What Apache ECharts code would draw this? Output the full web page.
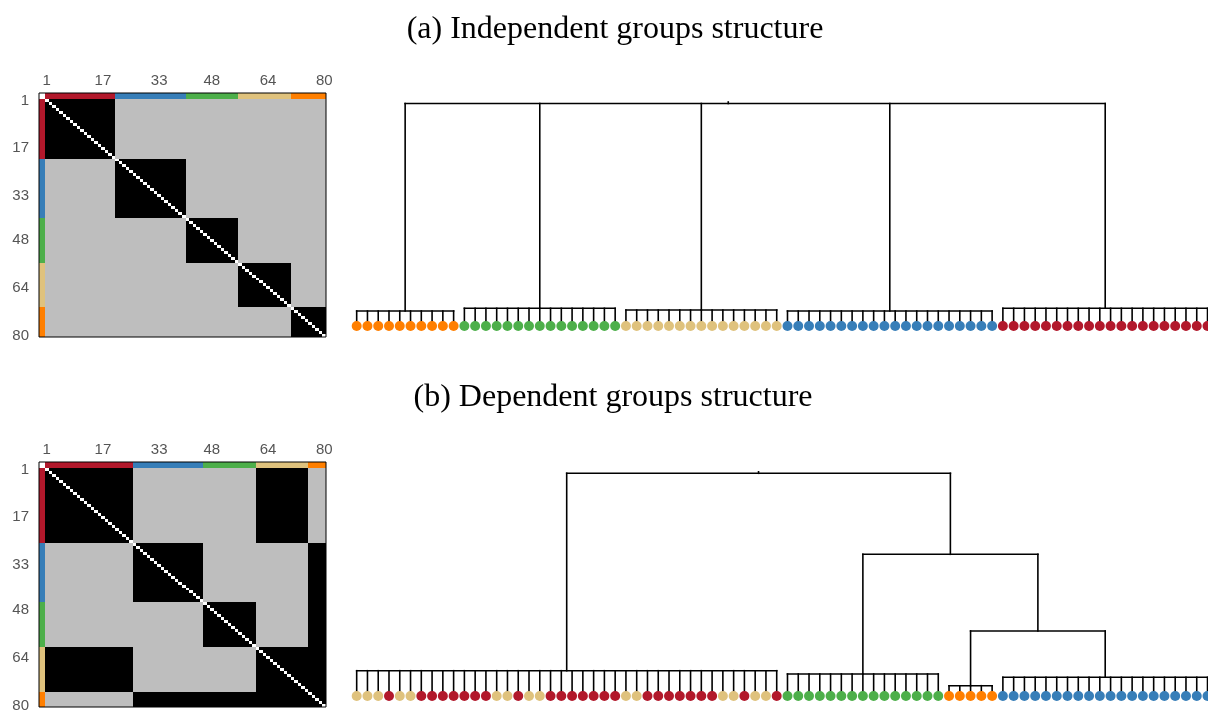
<!DOCTYPE html>
<html>
<head>
<meta charset="utf-8">
<script src="https://cdn.jsdelivr.net/npm/echarts@6/dist/echarts.min.js"></script>
<style>
  html, body { margin: 0; padding: 0; background: #fff; }
  #chart { width: 1208px; height: 711px; }
</style>
</head>
<body>
<div id="chart"></div>
<script>
// Group palette, in matrix order: red, blue, green, tan, orange
const groupColors = ['#b2182b', '#377eb8', '#4daf4a', '#dfc27d', '#ff7f00'];
const groupCodes = ['R', 'B', 'G', 'T', 'O'];
// Matrix cell colours: independent, dependent, diagonal
const cellColors = ['#bebebe', '#000000', '#ffffff'];

const titleA = '(a) Independent groups structure';
const titleB = '(b) Dependent groups structure';
const tickLabels = ['1', '17', '33', '48', '64', '80'];

// Group sizes along the matrix rows / columns
const sizesA = [20, 20, 15, 15, 10];
const sizesB = [25, 20, 15, 15, 5];

// 1 = the two groups are dependent (black block), 0 = independent (grey)
const linkA = [
  [1, 0, 0, 0, 0],
  [0, 1, 0, 0, 0],
  [0, 0, 1, 0, 0],
  [0, 0, 0, 1, 0],
  [0, 0, 0, 0, 1]
];
const linkB = [
  [1, 0, 0, 1, 0],
  [0, 1, 0, 0, 1],
  [0, 0, 1, 0, 1],
  [1, 0, 0, 1, 1],
  [0, 1, 1, 1, 1]
];

// Leaf groups along each dendrogram, left to right
const leavesA = 'OOOOO OOOOO GGGGG GGGGG GGGGG TTTTT TTTTT TTTTT BBBBB BBBBB BBBBB BBBBB RRRRR RRRRR RRRRR RRRRR';
const leavesB = 'TTTRT TRRRR RRRTT RTTRR RRRRR TTRRR RRRRT TRTTR GGGGG GGGGG GGGGG OOOOO BBBBB BBBBB BBBBB BBBBB';

// Dendrogram (a): flat leaf clusters [first leaf, last leaf] and their heights
const clusterSpanA = [[0, 9], [10, 24], [25, 39], [40, 59], [60, 79]];
const clusterHeightA = [15.0, 17.7, 16.0, 15.0, 17.7];
// merges above the clusters (cK = cluster K, mK = merge K)
const mergeKidsA = [['c0', 'c1', 'c2', 'c3', 'c4']];
const mergeHeightA = [222.5];

// Dendrogram (b)
const clusterSpanB = [[0, 39], [40, 54], [55, 59], [60, 79]];
const clusterHeightB = [25.3, 22.0, 10.3, 18.7];
const mergeKidsB = [['c2', 'c3'], ['c1', 'm0'], ['c0', 'm1']];
const mergeHeightB = [65.0, 141.7, 222.7];

const N = 80;
const cats = Array.from({ length: N }, (_, i) => String(i + 1));
const labelFont = { color: '#555', fontSize: 15, fontFamily: 'Liberation Sans' };

function groupOf(sizes) {
  const g = [];
  sizes.forEach((s, k) => { for (let i = 0; i < s; i++) g.push(k); });
  return g;
}
// [column, row, colour index]; diagonal last so it sits on top
function matrixData(sizes, link) {
  const g = groupOf(sizes);
  const off = [], diag = [];
  for (let r = 0; r < N; r++) {
    for (let c = 0; c < N; c++) {
      if (r === c) diag.push([c, r, 2]);
      else off.push([c, r, link[g[r]][g[c]]]);
    }
  }
  return off.concat(diag);
}
function bandData(sizes, vertical) {
  return groupOf(sizes).map((gi, i) => vertical ? [0, i, gi] : [i, 0, gi]);
}
function leafData(str) {
  return str.replace(/\s/g, '').split('').map((ch, i) => {
    const gi = groupCodes.indexOf(ch);
    return { value: [i, 0], itemStyle: { color: groupColors[gi], opacity: 1 } };
  });
}
// snap to whole pixels, ignoring floating-point noise, so neighbouring cells share edges
const snap = v => Math.round(Math.round(v * 1000) / 1000);
function cellRenderer(palette) {
  return function (params, api) {
    const p = api.coord([api.value(0), api.value(1)]);
    const s = api.size([1, 1]);
    const x0 = snap(p[0] - s[0] / 2), x1 = snap(p[0] + s[0] / 2);
    const y0 = snap(p[1] - s[1] / 2), y1 = snap(p[1] + s[1] / 2);
    return {
      type: 'rect',
      shape: { x: x0, y: y0, width: x1 - x0, height: y1 - y0 },
      style: { fill: palette[api.value(2)] }
    };
  };
}
function buildTree(spans, cH, mKids, mH) {
  const clusters = spans.map((s, k) => {
    const kids = [];
    for (let i = s[0]; i <= s[1]; i++) kids.push({ x: i, h: 0 });
    return { x: (s[0] + s[1]) / 2, h: cH[k], kids };
  });
  const merges = [];
  mKids.forEach((list, k) => {
    const kids = list.map(id => id[0] === 'c' ? clusters[+id.slice(1)] : merges[+id.slice(1)]);
    const x = kids.reduce((a, n) => a + n.x, 0) / kids.length;
    merges.push({ x, h: mH[k], kids, root: k === mKids.length - 1 });
  });
  return clusters.concat(merges);
}
function linkRenderer(nodes) {
  return function (params, api) {
    const n = nodes[params.dataIndex];
    const yTop = api.coord([n.x, n.h])[1];
    const pts = n.kids.map(k => api.coord([k.x, k.h]));
    const style = { stroke: '#000', lineWidth: 1.6, fill: null, lineCap: 'square' };
    const xsAll = pts.map(p => p[0]);
    const children = [{
      type: 'line',
      shape: { x1: Math.min(...xsAll), y1: yTop, x2: Math.max(...xsAll), y2: yTop },
      style
    }];
    pts.forEach(p => children.push({ type: 'line', shape: { x1: p[0], y1: yTop, x2: p[0], y2: p[1] }, style }));
    if (n.root) {
      const s = api.coord([n.x, n.h + 1.5]);
      children.push({ type: 'line', shape: { x1: s[0], y1: yTop, x2: s[0], y2: s[1] }, style });
    }
    return { type: 'group', children };
  };
}

const treeA = buildTree(clusterSpanA, clusterHeightA, mergeKidsA, mergeHeightA);
const treeB = buildTree(clusterSpanB, clusterHeightB, mergeKidsB, mergeHeightB);

// One panel: matrix with colour bands and frame, plus dendrogram
function panel(p, top, matH, dendroTop, rootH, sizes, link, leaves, tree) {
  const gi = p * 5;
  const grids = [
    { left: 45, top: top + 6, width: 281, height: matH },                 // matrix
    { left: 45, top: top, width: 281, height: 6 },                        // top colour band
    { left: 39, top: top + 6, width: 6, height: matH },                   // left colour band
    { left: 39, top: top, width: 287, height: matH + 6, show: true,       // frame
      borderColor: '#000', borderWidth: 1, backgroundColor: 'transparent', z: 10 },
    { left: 351.3, top: dendroTop, width: 861.6, height: rootH }          // dendrogram
  ].map(g => Object.assign({ containLabel: false, outerBoundsMode: 'none' }, g));

  const showTick = (idx, val) => tickLabels.indexOf(val) >= 0;
  const hiddenCat = (data, gIdx, inverse) => ({ type: 'category', data, gridIndex: gIdx, show: false, inverse: !!inverse });
  const xAxes = [
    { type: 'category', data: cats, gridIndex: gi, position: 'top',
      axisLine: { show: false }, axisTick: { show: false }, splitLine: { show: false },
      axisLabel: Object.assign({ interval: showTick, margin: 11 }, labelFont) },
    hiddenCat(cats, gi + 1),
    hiddenCat(['g'], gi + 2),
    { type: 'value', gridIndex: gi + 3, show: false, min: 0, max: 1 },
    { type: 'value', gridIndex: gi + 4, show: false, min: -0.5, max: 79.5 }
  ];
  const yAxes = [
    { type: 'category', data: cats, gridIndex: gi, inverse: true,
      axisLine: { show: false }, axisTick: { show: false }, splitLine: { show: false },
      axisLabel: Object.assign({ interval: showTick, margin: 16 }, labelFont) },
    hiddenCat(['g'], gi + 1),
    hiddenCat(cats, gi + 2, true),
    { type: 'value', gridIndex: gi + 3, show: false, min: 0, max: 1 },
    { type: 'value', gridIndex: gi + 4, show: false, min: 0, max: rootH }
  ];
  const series = [
    { type: 'custom', xAxisIndex: gi, yAxisIndex: gi, data: matrixData(sizes, link),
      renderItem: cellRenderer(cellColors), encode: { x: 0, y: 1 }, silent: true, progressive: 0 },
    { type: 'custom', xAxisIndex: gi + 1, yAxisIndex: gi + 1, data: bandData(sizes, false),
      renderItem: cellRenderer(groupColors), encode: { x: 0, y: 1 }, silent: true },
    { type: 'custom', xAxisIndex: gi + 2, yAxisIndex: gi + 2, data: bandData(sizes, true),
      renderItem: cellRenderer(groupColors), encode: { x: 0, y: 1 }, silent: true },
    { type: 'custom', xAxisIndex: gi + 4, yAxisIndex: gi + 4, renderItem: linkRenderer(tree),
      data: tree.map(n => [n.x, n.h]), encode: { x: 0, y: 1 }, clip: false, silent: true, z: 2 },
    { type: 'scatter', xAxisIndex: gi + 4, yAxisIndex: gi + 4, data: leafData(leaves),
      symbol: 'circle', symbolSize: 10, silent: true, z: 5, clip: false,
      itemStyle: { opacity: 1 } }
  ];
  return { grids, xAxes, yAxes, series };
}

const rootA = mergeHeightA[mergeHeightA.length - 1];
const rootB = mergeHeightB[mergeHeightB.length - 1];
const pa = panel(0, 93, 238, 326 - rootA, rootA, sizesA, linkA, leavesA, treeA);
const pb = panel(1, 462, 239, 696 - rootB, rootB, sizesB, linkB, leavesB, treeB);

const titleFont = '32px "Liberation Serif", "DejaVu Serif", serif';
const option = {
  animation: false,
  backgroundColor: '#fff',
  grid: pa.grids.concat(pb.grids),
  xAxis: pa.xAxes.concat(pb.xAxes),
  yAxis: pa.yAxes.concat(pb.yAxes),
  series: pa.series.concat(pb.series),
  graphic: [
    { type: 'text', x: 615, y: 30, silent: true,
      style: { text: titleA, font: titleFont, fill: '#000', align: 'center', verticalAlign: 'middle' } },
    { type: 'text', x: 613, y: 398, silent: true,
      style: { text: titleB, font: titleFont, fill: '#000', align: 'center', verticalAlign: 'middle' } }
  ]
};

const chart = echarts.init(document.getElementById('chart'), null, { renderer: 'canvas' });
chart.setOption(option);
</script>
</body>
</html>
